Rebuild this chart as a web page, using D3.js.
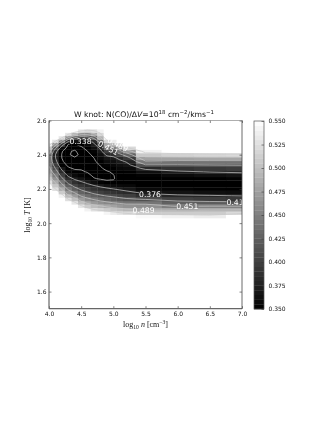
<!DOCTYPE html>
<html>
<head>
<meta charset="utf-8">
<script src="https://cdn.jsdelivr.net/npm/d3@7"></script>
<style>
  body { margin: 0; background: #fff; }
  svg { filter: blur(0.35px); }
  svg text { font-family: "DejaVu Sans", sans-serif; fill: #111; }
  .domain { display: none; }
  .tick line { stroke: #333; stroke-width: 0.6; }
</style>
</head>
<body>
<svg id="chart" width="332" height="430"></svg>
<script>
// log10 n columns and log10 T rows of the model grid
var densities = [4.0, 4.1, 4.2, 4.3, 4.4, 4.5, 4.6, 4.7, 4.8, 4.9, 5.0, 5.1, 5.2, 5.5, 6.0, 6.5, 7.0];
var temps = [2.00, 2.02, 2.04, 2.06, 2.08, 2.10, 2.12, 2.14, 2.16, 2.18, 2.20, 2.22, 2.24, 2.26, 2.28, 2.30,
  2.32, 2.34, 2.36, 2.38, 2.40, 2.42, 2.44, 2.46, 2.48, 2.50, 2.52, 2.54, 2.56, 2.58, 2.60];

// chi values x1000, one list per density, from temps[0] up to temps[30]
var n400 = [600,600,600,600,600,600,600,600,600,600,560,545,525,505,488,472,458,448,442,440,448,470,500,540,570,600,600,600,600,600,600];
var n410 = [600,600,600,600,600,600,600,600,570,550,525,505,485,465,448,430,413,398,385,377,376,388,420,465,530,570,600,600,600,600,600];
var n420 = [600,600,600,600,600,600,600,565,540,510,485,462,440,420,400,384,368,352,342,338,337,340,358,395,450,530,580,600,600,600,600];
var n430 = [600,600,600,600,600,590,555,525,495,468,445,425,405,387,370,355,342,332,325,322,322,322,328,336,385,450,530,590,600,600,600];
var n440 = [600,600,600,600,590,560,530,500,472,448,425,405,388,372,358,345,335,328,322,322,312,316,326,336,365,415,490,555,600,600,600];
var n450 = [600,600,600,600,565,530,500,472,448,428,408,392,378,365,352,342,335,330,326,325,325,328,333,345,362,395,460,530,570,600,600];
var n460 = [600,600,600,575,540,510,482,458,436,416,398,383,370,355,345,336,330,327,326,328,332,338,348,358,365,400,460,520,555,600,600];
var n470 = [600,600,590,560,525,498,470,448,426,406,390,376,362,340,332,328,326,328,334,338,344,352,362,372,385,425,480,525,555,600,600];
var n480 = [600,600,580,550,518,490,462,440,418,400,385,370,352,335,328,330,334,340,348,356,362,370,380,395,440,490,520,540,560,600,600];
var n490 = [600,590,570,542,510,482,456,434,412,394,380,365,345,332,332,335,346,352,360,368,380,400,440,480,520,550,580,600,600,600,600];
var n500 = [600,585,562,535,503,476,450,428,408,390,376,360,342,336,337,342,350,356,362,370,385,412,452,495,535,570,600,600,600,600,600];
var n510 = [600,580,555,528,498,470,445,423,403,386,372,358,350,346,346,350,356,362,370,382,405,440,480,525,565,600,600,600,600,600,600];
var n520 = [595,572,550,522,492,465,441,418,399,382,368,356,349,346,347,351,358,366,378,396,428,470,520,565,600,600,600,600,600,600,600];
var n550 = [590,570,545,510,483,462,442,412,388,370,357,350,347,347,352,362,382,412,446,477,508,540,570,600,600,600,600,600,600,600,600];
var n600 = [585,565,540,510,482,448,425,402,380,365,353,347,345,348,358,372,390,412,440,478,515,550,585,600,600,600,600,600,600,600,600];
var n650 = [580,560,535,510,484,450,422,398,378,362,351,346,345,350,362,377,394,414,440,480,518,552,585,600,600,600,600,600,600,600,600];
var n700 = [580,560,550,520,485,450,420,395,375,360,350,345,345,352,365,380,397,415,440,480,520,550,585,600,600,600,600,600,600,600,600];
var columns = [n400, n410, n420, n430, n440, n450, n460, n470, n480, n490, n500, n510, n520, n550, n600, n650, n700];

var contourLevels = [319, 338, 376, 414, 451, 489, 526];

var xTicks = [4.0, 4.5, 5.0, 5.5, 6.0, 6.5, 7.0];
var yTicks = [1.6, 1.8, 2.0, 2.2, 2.4, 2.6];
var barTicks = [0.35, 0.375, 0.4, 0.425, 0.45, 0.475, 0.5, 0.525, 0.55];

var labelText = ['0.338', '0.451', '0.489', '0.376', '0.489', '0.451', '0.414'];
var labelN = [4.49, 4.92, 5.07, 5.57, 5.47, 6.15, 6.93];
var labelT = [2.476, 2.44, 2.46, 2.172, 2.075, 2.098, 2.124];
var labelAngle = [0, 28, 28, 0, 0, 0, 0];

var svg = d3.select('#chart');

var x = d3.scaleLinear().domain([4, 7]).range([49, 242]);
var y = d3.scaleLinear().domain([1.5, 2.6]).range([308.7, 120.5]);
var grey = d3.scaleLinear().domain([350, 550]).range(['#000', '#fff']).clamp(true);

// grid index -> data value, stretches with the uneven column spacing
var colIndex = d3.scaleLinear().domain(d3.range(densities.length)).range(densities);
var rowIndex = d3.scaleLinear().domain(d3.range(temps.length)).range(temps);

var defs = svg.append('defs');
defs.append('clipPath').attr('id', 'plot-clip').append('rect')
  .attr('x', x(4)).attr('y', y(2.6))
  .attr('width', x(7) - x(4)).attr('height', y(1.5) - y(2.6));

var plot = svg.append('g').attr('clip-path', 'url(#plot-clip)');

/**
 * Heat map cells
 */
densities.forEach(function (n, i) {
  temps.forEach(function (t, j) {
    var left = x(colIndex(i - 0.5));
    var right = x(colIndex(i + 0.5));
    var top = y(rowIndex(j + 0.5));
    var bottom = y(rowIndex(j - 0.5));
    plot.append('rect')
      .attr('x', left).attr('y', top)
      .attr('width', right - left + 0.3)
      .attr('height', bottom - top + 0.3)
      .attr('fill', grey(columns[i][j]));
  });
});

/**
 * Contours
 */
var flat = [];
temps.forEach(function (t, j) {
  densities.forEach(function (n, i) {
    flat.push(columns[i][j]);
  });
});

var contours = d3.contours()
  .size([densities.length, temps.length])
  .thresholds(contourLevels)(flat);

// skip the closing edge d3 puts along the low side of the grid
var contourLine = d3.line()
  .defined(function (p) { return p[1] > 0; })
  .curve(d3.curveLinear)
  .x(function (p) { return x(colIndex(p[0] - 0.5)); })
  .y(function (p) { return y(rowIndex(p[1] - 0.5)); });

var mask = defs.append('mask').attr('id', 'label-gaps')
  .attr('maskUnits', 'userSpaceOnUse')
  .attr('x', 0).attr('y', 0).attr('width', 332).attr('height', 430);
mask.append('rect').attr('width', 332).attr('height', 430).attr('fill', '#fff');

var lines = plot.append('g').attr('mask', 'url(#label-gaps)');
contours.forEach(function (c) {
  c.coordinates.forEach(function (polygon) {
    polygon.forEach(function (ring) {
      lines.append('path')
        .attr('d', contourLine(ring))
        .attr('fill', 'none')
        .attr('stroke', '#c8c8c8')
        .attr('stroke-width', 0.7);
    });
  });
});

labelText.forEach(function (d, i) {
  var transform = 'translate(' + x(labelN[i]) + ',' + y(labelT[i]) + ') rotate(' + labelAngle[i] + ')';
  var label = plot.append('text')
    .attr('transform', transform)
    .attr('text-anchor', 'middle')
    .attr('dy', '0.36em')
    .style('font-size', '7.7px')
    .style('fill', '#fff')
    .text(d);
  var box = label.node().getBBox();
  mask.append('rect')
    .attr('transform', transform)
    .attr('x', box.x).attr('y', box.y + 1)
    .attr('width', box.width).attr('height', box.height - 2)
    .attr('fill', '#000');
});

/**
 * Axes and frame
 */
function styleAxis(g) {
  g.selectAll('text').style('font-size', '6px');
}

svg.append('g').attr('transform', 'translate(0,' + y(1.5) + ')')
  .call(d3.axisBottom(x).tickValues(xTicks).tickFormat(d3.format('.1f')).tickSizeInner(-2.5).tickSizeOuter(0).tickPadding(3.5))
  .call(styleAxis);
svg.append('g').attr('transform', 'translate(0,' + y(2.6) + ')')
  .call(d3.axisTop(x).tickValues(xTicks).tickFormat('').tickSizeInner(-2.5).tickSizeOuter(0));
svg.append('g').attr('transform', 'translate(' + x(4) + ',0)')
  .call(d3.axisLeft(y).tickValues(yTicks).tickFormat(d3.format('.1f')).tickSizeInner(-2.5).tickSizeOuter(0).tickPadding(2.5))
  .call(styleAxis);
svg.append('g').attr('transform', 'translate(' + x(7) + ',0)')
  .call(d3.axisRight(y).tickValues(yTicks).tickFormat('').tickSizeInner(-2.5).tickSizeOuter(0));

svg.append('line').attr('x1', x(4)).attr('x2', x(4)).attr('y1', y(2.6)).attr('y2', y(1.5))
  .attr('stroke', '#666').attr('stroke-width', 1.2);
svg.append('line').attr('x1', x(4)).attr('x2', x(7)).attr('y1', y(1.5)).attr('y2', y(1.5))
  .attr('stroke', '#666').attr('stroke-width', 1.2);
svg.append('line').attr('x1', x(7)).attr('x2', x(7)).attr('y1', y(2.6)).attr('y2', y(1.5))
  .attr('stroke', '#444').attr('stroke-width', 0.8);
svg.append('line').attr('x1', x(4)).attr('x2', x(7)).attr('y1', y(2.6)).attr('y2', y(2.6))
  .attr('stroke', '#777').attr('stroke-width', 0.6);

// text with sub/superscripts, parts are [string, kind]
function addMath(text, parts, size) {
  var shift = 0;
  parts.forEach(function (p) {
    var kind = p[1] || '';
    var want = kind === 'sup' ? -3 : (kind === 'sub' ? 1.5 : 0);
    var span = text.append('tspan')
      .attr('dy', want - shift)
      .text(p[0]);
    span.style('font-size', (kind === 'sup' || kind === 'sub' ? size * 0.7 : size) + 'px');
    if(kind === 'it') {
      span.style('font-style', 'italic');
    }
    shift = want;
  });
}

var title = svg.append('text')
  .attr('x', 144).attr('y', 117)
  .attr('text-anchor', 'middle');
addMath(title, [['W knot: N(CO)/\u0394'], ['V', 'it'], ['=10'], ['18', 'sup'], [' cm'], ['\u22122', 'sup'], ['/kms'], ['\u22121', 'sup']], 7.7);

var xLabel = svg.append('text')
  .attr('x', 145.5).attr('y', 327)
  .attr('text-anchor', 'middle')
  .style('font-family', '"Liberation Serif", serif');
addMath(xLabel, [['log'], ['10', 'sub'], [' '], ['n', 'it'], [' [cm'], ['\u22123', 'sup'], [']']], 8);

var yLabel = svg.append('text')
  .attr('transform', 'translate(30,215) rotate(-90)')
  .attr('text-anchor', 'middle')
  .style('font-family', '"Liberation Serif", serif');
addMath(yLabel, [['log'], ['10', 'sub'], [' '], ['T', 'it'], [' [K]']], 8);

/**
 * Colour bar
 */
var barScale = d3.scaleLinear().domain([0.35, 0.55]).range([309, 121]);
var barLeft = 254;
var barRight = 264;

d3.range(0, 40).forEach(function (i) {
  var low = 0.35 + i * 0.005;
  svg.append('rect')
    .attr('x', barLeft).attr('width', barRight - barLeft)
    .attr('y', barScale(low + 0.005))
    .attr('height', barScale(low) - barScale(low + 0.005) + 0.3)
    .attr('fill', grey(1000 * (low + 0.0025)));
});

svg.append('g').attr('transform', 'translate(' + barRight + ',0)')
  .call(d3.axisRight(barScale).tickValues(barTicks).tickFormat(d3.format('.3f')).tickSizeInner(-2.5).tickSizeOuter(0).tickPadding(4.5))
  .call(styleAxis);

svg.append('rect')
  .attr('x', barLeft).attr('y', barScale(0.55))
  .attr('width', barRight - barLeft).attr('height', barScale(0.35) - barScale(0.55))
  .attr('fill', 'none').attr('stroke', '#555').attr('stroke-width', 0.7);
</script>
</body>
</html>
